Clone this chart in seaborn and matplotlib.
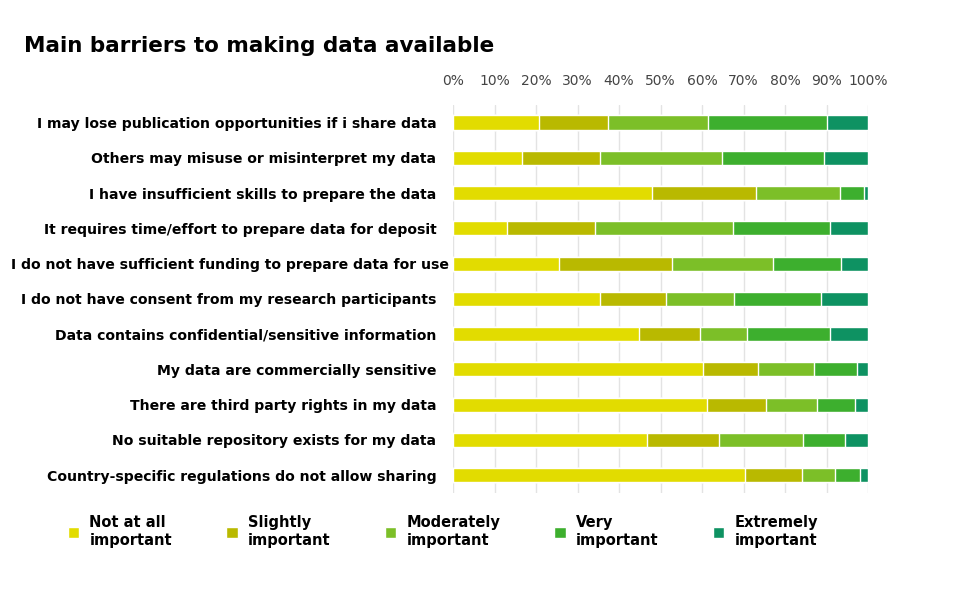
import pandas as pd
import seaborn as sns
import matplotlib.pyplot as plt
import matplotlib.transforms as mtransforms
from matplotlib.patches import Patch

barriers = [
    'I may lose publication opportunities if i share data',
    'Others may misuse or misinterpret my data',
    'I have insufficient skills to prepare the data',
    'It requires time/effort to prepare data for deposit',
    'I do not have sufficient funding to prepare data for use',
    'I do not have consent from my research participants',
    'Data contains confidential/sensitive information',
    'My data are commercially sensitive',
    'There are third party rights in my data',
    'No suitable repository exists for my data',
    'Country-specific regulations do not allow sharing',
]
levels = ['Not at all\nimportant', 'Slightly\nimportant', 'Moderately\nimportant',
          'Very\nimportant', 'Extremely\nimportant']
not_at_all = [20.6, 16.6, 48.0, 13.0, 25.5, 35.3, 44.7, 60.2, 61.2, 46.7, 70.4]
slightly = [16.7, 18.9, 24.9, 21.3, 27.3, 16.0, 14.7, 13.3, 14.1, 17.4, 13.7]
moderately = [24.1, 29.2, 20.4, 33.1, 24.3, 16.5, 11.4, 13.4, 12.4, 20.2, 7.9]
very = [28.7, 24.6, 5.7, 23.4, 16.4, 20.9, 20.0, 10.4, 9.2, 10.1, 6.0]
extremely = [9.9, 10.7, 1.0, 9.2, 6.5, 11.3, 9.2, 2.7, 3.1, 5.6, 2.0]
colors = ['#e2dc00', '#b9b900', '#7cbf28', '#3daf2e', '#0e9262']

df = pd.DataFrame({'barrier': barriers})
series = [not_at_all, slightly, moderately, very, extremely]
cum = [0] * len(barriers)
cum_cols = []
for i, s in enumerate(series):
    cum = [a + b for a, b in zip(cum, s)]
    df[f'c{i}'] = cum
    cum_cols.append(f'c{i}')

sns.set_style('white')
plt.rcParams['font.family'] = ['DejaVu Sans']
plt.rcParams['text.color'] = 'black'

fig = plt.figure(figsize=(9.56, 5.91), dpi=100)
ax = fig.add_axes([0.4739, 0.166, 0.4341, 0.6565])

# draw cumulative bars from the longest so the shorter ones sit on top
for col, c in reversed(list(zip(cum_cols, colors))):
    sns.barplot(data=df, x=col, y='barrier', color=c, orient='h',
                width=0.4, ax=ax, saturation=1)

ax.set_xlim(0, 100)
ax.set_ylim(10.5, -0.5)
ax.set_xticks(range(0, 101, 10))
ax.set_xticklabels([f'{v}%' for v in range(0, 101, 10)])
ax.xaxis.tick_top()
ax.tick_params(axis='x', length=0, pad=12, labelsize=10, labelcolor='#444444')
ax.tick_params(axis='y', length=0, pad=12, labelsize=10.1, labelcolor='black')
for lab in ax.get_yticklabels():
    lab.set_fontweight('semibold')
    if 'funding' in lab.get_text():
        # this one sits a little further right in the original
        lab.set_transform(lab.get_transform() +
                          mtransforms.ScaledTranslation(0.12, 0, fig.dpi_scale_trans))
ax.set_xlabel('')
ax.set_ylabel('')
ax.grid(axis='x', color='#e3e3e3', linewidth=1)
ax.set_axisbelow(True)
for sp in ax.spines.values():
    sp.set_visible(False)

fig.text(0.025, 0.922, 'Main barriers to making data available',
         fontsize=15.5, fontweight='bold', va='center')

handles = [Patch(facecolor=c, label=l) for c, l in zip(colors, levels)]
fig.legend(handles=handles, loc='upper left', bbox_to_anchor=(0.057, 0.15),
           ncol=5, frameon=False, handlelength=0.8, handleheight=0.8,
           handletextpad=0.7, columnspacing=3.7,
           prop={'size': 10.5, 'weight': 'semibold'})

fig.savefig('out.png', dpi=100)
